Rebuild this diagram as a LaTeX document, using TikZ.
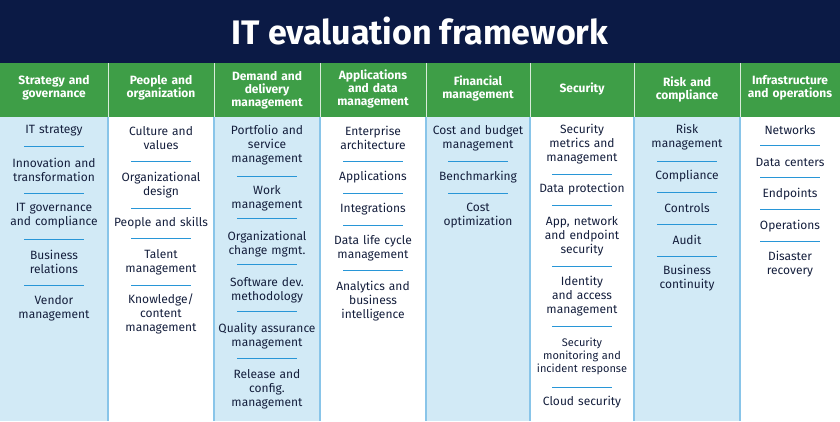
\documentclass[tikz,border=0pt]{standalone}
\usepackage{fontspec}
\setmainfont{Fira Sans}
\usetikzlibrary{positioning}
\definecolor{navy}{RGB}{11, 26, 69}
\definecolor{leafgreen}{RGB}{62, 158, 71}
\definecolor{paleblue}{RGB}{210, 234, 246}
\definecolor{ruleblue}{RGB}{40, 150, 215}
\definecolor{textnavy}{RGB}{20, 30, 60}
\tikzset{
  head/.style={text=white, font=\fontsize{12}{13}\selectfont\bfseries, align=center, text width=100pt},
  item/.style={text=textnavy, font=\fontsize{12}{14}\selectfont, align=center, text width=100pt, inner sep=0pt},
  sep/.style={ruleblue, line width=1pt},
}
\begin{document}
\begin{tikzpicture}[x=1pt, y=-1pt]
  \useasboundingbox (0,0) rectangle (840,421);
  % bands
  \fill[navy] (0,0) rectangle (840,63);
  \fill[leafgreen] (0,63) rectangle (840,117);
  \foreach \xa/\xb in {0/108, 214/320, 426/530, 634/740}
    \fill[paleblue] (\xa,117) rectangle (\xb,421);
  \foreach \x in {108,214,320,426,530,634,740} {
    \draw[white!80!leafgreen, line width=1pt] (\x,63) -- (\x,117);
    \draw[ruleblue!55, line width=1.2pt] (\x,117) -- (\x,421);
  }
  \node[text=white, font=\fontsize{34}{36}\selectfont\bfseries] (title) at (420,31) {IT evaluation framework};
  % headers
  \node[head] (h1) at (54,88) {Strategy and\\governance};
  \node[head] (h2) at (161,88) {People and\\organization};
  \node[head] (h3) at (267,90) {Demand and\\delivery\\management};
  \node[head] (h4) at (373,89) {Applications\\and data\\management};
  \node[head] (h5) at (478,88) {Financial\\management};
  \node[head] (h6) at (582,89) {Security};
  \node[head] (h7) at (687,89) {Risk and\\compliance};
  \node[head] (h8) at (790,88) {Infrastructure\\and operations};
  % column 1
  \node[item] (sg1) at (54,131) {IT strategy};
  \node[item] (sg2) at (54,170) {Innovation and\\transformation};
  \node[item] (sg3) at (54,216) {IT governance\\and compliance};
  \node[item] (sg4) at (54,262) {Business\\relations};
  \node[item] (sg5) at (54,308) {Vendor\\management};
  \foreach \y in {146,193,239,285} \draw[sep] (24,\y) -- (84,\y);
  % column 2
  \node[item] (po1) at (161,138) {Culture and\\values};
  \node[item] (po2) at (161,185) {Organizational\\design};
  \node[item] (po3) at (161,223) {People and skills};
  \node[item] (po4) at (161,262) {Talent\\management};
  \node[item] (po5) at (161,314) {Knowledge/\\content\\management};
  \foreach \y in {161,208,238,285} \draw[sep] (131,\y) -- (191,\y);
  % column 3
  \node[item] (dd1) at (267,145) {Portfolio and\\service\\management};
  \node[item] (dd2) at (267,198) {Work\\management};
  \node[item] (dd3) at (267,244) {Organizational\\change mgmt.};
  \node[item] (dd4) at (267,290) {Software dev.\\methodology};
  \node[item] (dd5) at (267,336) {Quality assurance\\management};
  \node[item] (dd6) at (267,389) {Release and\\config.\\management};
  \foreach \y in {176,218,264,311,358} \draw[sep] (237,\y) -- (297,\y);
  % column 4
  \node[item] (ad1) at (373,138) {Enterprise\\architecture};
  \node[item] (ad2) at (373,177) {Applications};
  \node[item] (ad3) at (373,209) {Integrations};
  \node[item] (ad4) at (373,248) {Data life cycle\\management};
  \node[item] (ad5) at (373,301) {Analytics and\\business\\intelligence};
  \foreach \y in {161,193,225,270} \draw[sep] (343,\y) -- (403,\y);
  % column 5
  \node[item] (fm1) at (478,138) {Cost and budget\\management};
  \node[item] (fm2) at (478,177) {Benchmarking};
  \node[item] (fm3) at (478,216) {Cost\\optimization};
  \foreach \y in {161,193} \draw[sep] (448,\y) -- (508,\y);
  % column 6
  \node[item] (se1) at (582,144) {Security\\metrics and\\management};
  \node[item] (se2) at (582,189) {Data protection};
  \node[item] (se3) at (582,236) {App, network\\and endpoint\\security};
  \node[item] (se4) at (582,296) {Identity\\and access\\management};
  \node[item, font=\fontsize{11}{13}\selectfont] (se5) at (582,356) {Security\\monitoring and\\incident response};
  \node[item] (se6) at (582,402) {Cloud security};
  \foreach \y in {174,205,266,326,387} \draw[sep] (552,\y) -- (612,\y);
  % column 7
  \node[item] (rc1) at (687,137) {Risk\\management};
  \node[item] (rc2) at (687,176) {Compliance};
  \node[item] (rc3) at (687,208) {Controls};
  \node[item] (rc4) at (687,240) {Audit};
  \node[item] (rc5) at (687,278) {Business\\continuity};
  \foreach \y in {161,192,224,256} \draw[sep] (657,\y) -- (717,\y);
  % column 8
  \node[item] (io1) at (790,130) {Networks};
  \node[item] (io2) at (790,162) {Data centers};
  \node[item] (io3) at (790,194) {Endpoints};
  \node[item] (io4) at (790,226) {Operations};
  \node[item] (io5) at (790,264) {Disaster\\recovery};
  \foreach \y in {145,177,209,241} \draw[sep] (760,\y) -- (820,\y);
\end{tikzpicture}
\end{document}
